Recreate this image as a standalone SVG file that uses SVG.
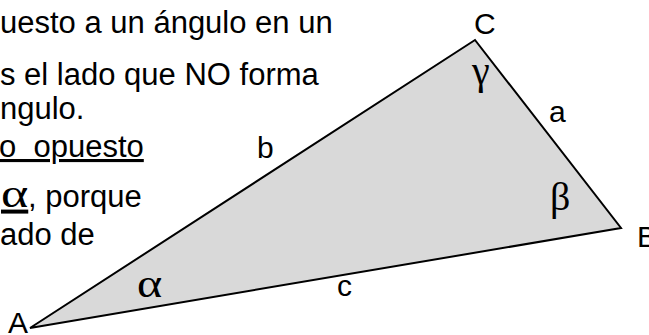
<svg xmlns="http://www.w3.org/2000/svg" width="649" height="335" viewBox="0 0 649 335">
<style>
.t{font-family:"Liberation Sans",Arial,sans-serif;font-size:31px;fill:#000}
.lbl{font-family:"Liberation Sans",Arial,sans-serif;font-size:30px;fill:#000}
.gk{font-family:"Liberation Serif","Times New Roman",serif;font-size:40px;fill:#000}
.u{text-decoration:underline}
</style>
<rect width="649" height="335" fill="#fff"/>
<g id="texto">
<text class="t" x="0" y="33">uesto a un ángulo en un</text>
<text class="t" x="0" y="85">s el lado que NO forma</text>
<text class="t" x="0" y="119">ngulo.</text>
<text class="t u" x="-1" y="157" xml:space="preserve">o  opuesto</text>
<text class="gk u" transform="translate(1,207) scale(1.3,1)">α</text>
<text class="t" x="28" y="207">, porque</text>
<text class="t" x="0" y="245">ado de</text>
</g>
<g id="connectors">
<polygon id="triangulo" points="30,328 475,40 621,228" fill="#d9d9d9" stroke="#000" stroke-width="2" stroke-linejoin="miter"/>
</g>
<g id="A"><text class="lbl" x="8" y="333">A</text></g>
<g id="B"><text class="lbl" x="637" y="247">B</text></g>
<g id="C"><text class="lbl" x="474" y="34">C</text></g>
<g id="lado-a"><text class="lbl" x="549" y="122">a</text></g>
<g id="lado-b"><text class="lbl" x="257" y="158">b</text></g>
<g id="lado-c"><text class="lbl" x="337" y="296">c</text></g>
<g id="alfa"><text class="gk" transform="translate(137,297) scale(1.2,1)">α</text></g>
<g id="beta"><text class="gk" x="550" y="210">β</text></g>
<g id="gamma"><text class="gk" x="472" y="84">γ</text></g>
</svg>
